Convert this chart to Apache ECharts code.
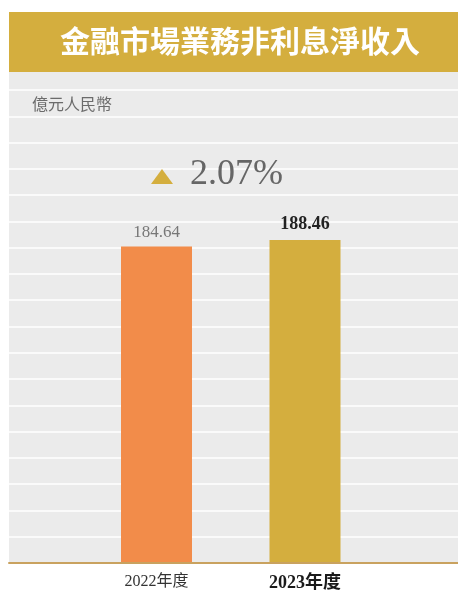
<!DOCTYPE html>
<html>
<head>
<meta charset="utf-8">
<script src="https://cdn.jsdelivr.net/npm/echarts@6/dist/echarts.min.js"></script>
<style>
html,body{margin:0;padding:0;background:#fff;}
#chart{width:458px;height:592px;}
</style>
</head>
<body>
<div id="chart"></div>
<script>
// ---- data ----
var title = '金融市場業務非利息淨收入';
var unitLabel = '億元人民幣';
var categories = ['2022年度', '2023年度'];
var values = [184.64, 188.46];
var growthText = '2.07%';

// ---- styles ----
var GOLD = '#d4ae3e';
var ORANGE = '#f28c4a';
var barColors = [ORANGE, GOLD];
var labelStyles = [
  {color: '#777777', fontSize: 17, fontWeight: 'normal', distance: 6},
  {color: '#222222', fontSize: 18, fontWeight: 'bold', distance: 7}
];
var serif = "'Liberation Serif', 'Noto Sans CJK TC', serif";

var seriesData = values.map(function (v, i) {
  return {
    value: v,
    itemStyle: {color: barColors[i]},
    label: {
      color: labelStyles[i].color,
      fontSize: labelStyles[i].fontSize,
      fontWeight: labelStyles[i].fontWeight,
      distance: labelStyles[i].distance
    }
  };
});

var yMax = 276.3, yInterval = 15.35;

var chart = echarts.init(document.getElementById('chart'), null, {renderer: 'canvas'});
chart.setOption({
  animation: false,
  backgroundColor: '#ffffff',
  graphic: [
    {type: 'rect', z: -1, shape: {x: 9, y: 12, width: 449, height: 60}, style: {fill: GOLD}},
    {type: 'rect', z: -1, shape: {x: 9, y: 72, width: 449, height: 491}, style: {fill: '#ebebeb'}},
    {type: 'text', z: 5, x: 240, y: 41, style: {
      text: title, fill: '#ffffff', fontSize: 30, fontWeight: 'bold',
      fontFamily: "'Noto Sans CJK TC', sans-serif", align: 'center', verticalAlign: 'middle'
    }},
    {type: 'text', z: 5, x: 32, y: 104, style: {
      text: unitLabel, fill: '#6b6b6b', fontSize: 16,
      fontFamily: "'Noto Sans CJK TC', sans-serif", align: 'left', verticalAlign: 'middle'
    }},
    {type: 'polygon', z: 5, shape: {points: [[151, 184], [162, 169], [173, 184]]}, style: {fill: GOLD}},
    {type: 'text', z: 5, x: 190, y: 175, style: {
      text: growthText, fill: '#666666', fontSize: 36,
      fontFamily: serif, align: 'left', verticalAlign: 'middle'
    }}
  ],
  grid: [
    {left: 9, right: 0, top: 90, bottom: 29},
    {left: 82.25, right: 78.75, top: 90, bottom: 29}
  ],
  xAxis: [
    {
      gridIndex: 0, type: 'category', data: [''], z: 3,
      axisLine: {show: true, lineStyle: {color: '#c9a25f', width: 2}},
      axisTick: {show: false}, axisLabel: {show: false}, splitLine: {show: false}
    },
    {
      gridIndex: 1, type: 'category', data: categories,
      axisLine: {show: false}, axisTick: {show: false},
      axisLabel: {
        margin: 12,
        formatter: function (v, i) { return i === 1 ? '{b|' + v + '}' : '{a|' + v + '}'; },
        rich: {
          a: {fontFamily: serif, fontSize: 16, color: '#333333'},
          b: {fontFamily: serif, fontSize: 18, fontWeight: 'bold', color: '#1a1a1a'}
        }
      }
    }
  ],
  yAxis: [
    {
      gridIndex: 0, type: 'value', min: 0, max: yMax, interval: yInterval,
      axisLine: {show: false}, axisTick: {show: false}, axisLabel: {show: false},
      splitLine: {show: true, lineStyle: {color: '#ffffff', width: 1.5}}
    },
    {
      gridIndex: 1, type: 'value', min: 0, max: yMax, interval: yInterval, show: false,
      splitLine: {show: false}
    }
  ],
  series: [{
    type: 'bar',
    xAxisIndex: 1, yAxisIndex: 1,
    barWidth: 71,
    data: seriesData,
    label: {
      show: true, position: 'top', fontFamily: serif,
      formatter: function (p) { return p.value.toFixed(2); }
    }
  }]
});
</script>
</body>
</html>
